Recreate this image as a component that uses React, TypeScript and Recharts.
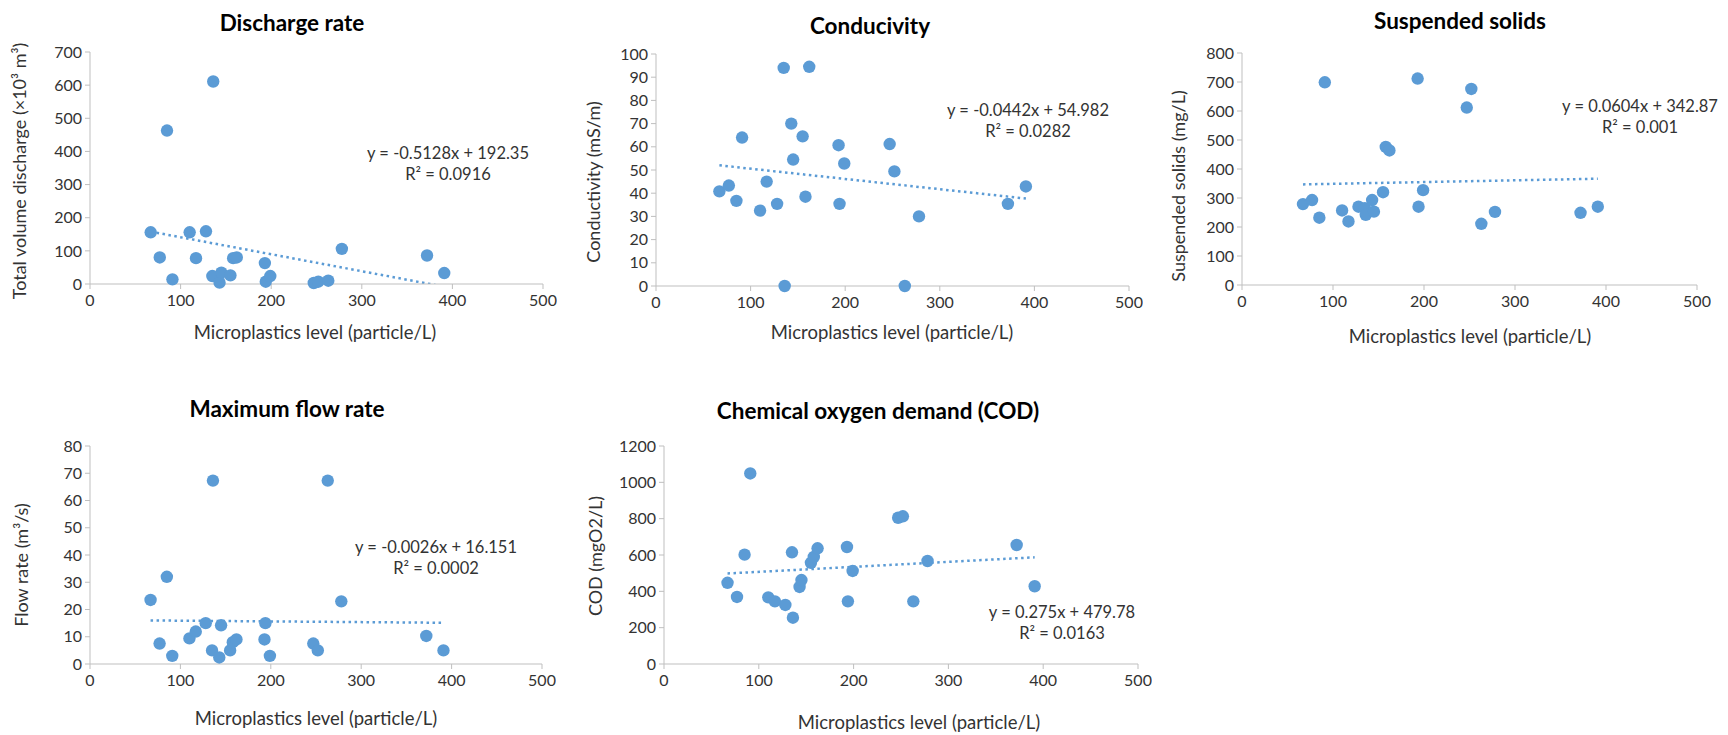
import { ScatterChart, Scatter, XAxis, YAxis, ReferenceLine } from 'recharts';

// Microplastics level (particle/L) for each site, shared by all panels
const microplastics = [67, 77, 85, 91, 110, 117, 128, 135, 136, 143, 145, 155, 158, 162, 193, 194, 199, 247, 252, 263, 278, 372, 391];

const discharge = [156, 80, 463, 14, 156, 78, 159, 24, 611, 4, 34, 26, 78, 80, 63, 7, 24, 3, 7, 10, 106, 86, 33];
const conductivity = [40.8, 43.3, 36.7, 64, 32.5, 45, 35.4, 94, 0, 70, 54.5, 64.5, 38.5, 94.5, 60.7, 35.4, 52.8, 61.2, 49.4, 0, 30, 35.4, 42.9];
const suspendedSolids = [279, 293, 232, 699, 257, 219, 270, 265, 242, 293, 253, 320, 476, 464, 712, 270, 327, 612, 676, 211, 252, 249, 270];
const maxFlow = [23.5, 7.5, 32, 3, 9.4, 11.9, 15, 5, 67.3, 2.4, 14.2, 5, 8, 9, 9, 15, 3, 7.5, 5, 67.3, 23, 10.3, 5];
const cod = [447, 369, 602, 1049, 367, 345, 325, 615, 255, 424, 462, 557, 589, 637, 644, 345, 512, 805, 813, 345, 567, 655, 428];

const xTicks = [0, 100, 200, 300, 400, 500];
const dischargeTicks = [0, 100, 200, 300, 400, 500, 600, 700];
const conductivityTicks = [0, 10, 20, 30, 40, 50, 60, 70, 80, 90, 100];
const solidsTicks = [0, 100, 200, 300, 400, 500, 600, 700, 800];
const flowTicks = [0, 10, 20, 30, 40, 50, 60, 70, 80];
const codTicks = [0, 200, 400, 600, 800, 1000, 1200];

const BLUE = '#5B9BD5';
const AXIS = '#BFBFBF';
const TEXT = '#333333';
const FONT = 'Lato, "Open Sans", sans-serif';

type Pt = [number, number];

interface PanelProps {
  title: string;
  yLabel: string;
  values: number[];
  yTicks: number[];
  slope: number;
  intercept: number;
  eq: string;
  r2: string;
  box: { x0: number; x1: number; yT: number; yB: number };
  titleAt: Pt;
  yLabelAt: Pt;
  xLabelAt: Pt;
  eqAt: Pt;
}

const centered = (at: Pt, extra: React.CSSProperties = {}): React.CSSProperties => ({
  position: 'absolute',
  left: at[0],
  top: at[1],
  transform: 'translate(-50%, -50%)',
  whiteSpace: 'nowrap',
  fontFamily: FONT,
  color: TEXT,
  ...extra,
});

function Panel(p: PanelProps) {
  const data = microplastics.map((x, i) => ({ x, y: p.values[i] }));
  const minX = Math.min(...microplastics);
  const maxX = Math.max(...microplastics);
  const padL = 70;
  const padR = 14;
  const padT = 14;
  const padB = 40;
  const w = p.box.x1 - p.box.x0 + padL + padR;
  const h = p.box.yB - p.box.yT + padT + padB;
  const yMax = p.yTicks[p.yTicks.length - 1];

  return (
    <>
      <div style={{ position: 'absolute', left: p.box.x0 - padL, top: p.box.yT - padT }}>
        <ScatterChart width={w} height={h} margin={{ top: padT, right: padR, bottom: 0, left: 0 }}>
          <XAxis
            type="number"
            dataKey="x"
            domain={[0, 500]}
            ticks={xTicks}
            stroke={AXIS}
            tickSize={5}
            tickMargin={6}
            height={padB}
            tick={{ fill: TEXT, fontSize: 16, fontFamily: FONT }}
          />
          <YAxis
            type="number"
            dataKey="y"
            domain={[0, yMax]}
            ticks={p.yTicks}
            stroke={AXIS}
            tickSize={5}
            tickMargin={3}
            width={padL}
            tick={{ fill: TEXT, fontSize: 16, fontFamily: FONT }}
          />
          <ReferenceLine
            segment={[
              { x: minX, y: p.slope * minX + p.intercept },
              { x: maxX, y: p.slope * maxX + p.intercept },
            ]}
            ifOverflow="hidden"
            stroke={BLUE}
            strokeWidth={2.5}
            strokeDasharray="2.5 3.5"
          />
          <Scatter data={data} fill={BLUE} isAnimationActive={false} shape={(s: any) => <circle cx={s.cx} cy={s.cy} r={6.2} fill={BLUE} />} />
        </ScatterChart>
      </div>
      <div style={centered(p.titleAt, { fontSize: 22.5, fontWeight: 700, color: '#000' })}>{p.title}</div>
      <div style={centered(p.yLabelAt, { fontSize: 18, transform: 'translate(-50%, -50%) rotate(-90deg)' })}>{p.yLabel}</div>
      <div style={centered(p.xLabelAt, { fontSize: 18.5 })}>Microplastics level (particle/L)</div>
      <div style={centered(p.eqAt, { fontSize: 16.5, textAlign: 'center', lineHeight: '21px' })}>
        {p.eq}
        <br />
        {p.r2}
      </div>
    </>
  );
}

export default function App() {
  return (
    <div style={{ position: 'absolute', left: 0, top: 0, width: 1728, height: 735, background: '#fff', overflow: 'hidden' }}>
      <Panel
        title="Discharge rate"
        yLabel="Total volume discharge (×10³ m³)"
        values={discharge}
        yTicks={dischargeTicks}
        slope={-0.5128}
        intercept={192.35}
        eq="y = -0.5128x + 192.35"
        r2="R² = 0.0916"
        box={{ x0: 90, x1: 543, yT: 52, yB: 284 }}
        titleAt={[292, 22]}
        yLabelAt={[19, 171]}
        xLabelAt={[315, 332]}
        eqAt={[448, 164]}
      />
      <Panel
        title="Conducivity"
        yLabel="Conductivity (mS/m)"
        values={conductivity}
        yTicks={conductivityTicks}
        slope={-0.0442}
        intercept={54.982}
        eq="y = -0.0442x + 54.982"
        r2="R² = 0.0282"
        box={{ x0: 656, x1: 1129, yT: 54, yB: 286 }}
        titleAt={[870, 25]}
        yLabelAt={[593, 182]}
        xLabelAt={[892, 332]}
        eqAt={[1028, 121]}
      />
      <Panel
        title="Suspended solids"
        yLabel="Suspended solids (mg/L)"
        values={suspendedSolids}
        yTicks={solidsTicks}
        slope={0.0604}
        intercept={342.87}
        eq="y = 0.0604x + 342.87"
        r2="R² = 0.001"
        box={{ x0: 1242, x1: 1697, yT: 53, yB: 285 }}
        titleAt={[1460, 20]}
        yLabelAt={[1178, 186]}
        xLabelAt={[1470, 336]}
        eqAt={[1640, 117]}
      />
      <Panel
        title="Maximum flow rate"
        yLabel="Flow rate (m³/s)"
        values={maxFlow}
        yTicks={flowTicks}
        slope={-0.0026}
        intercept={16.151}
        eq="y = -0.0026x + 16.151"
        r2="R² = 0.0002"
        box={{ x0: 90, x1: 542, yT: 446, yB: 664 }}
        titleAt={[287, 408]}
        yLabelAt={[21, 565]}
        xLabelAt={[316, 718]}
        eqAt={[436, 558]}
      />
      <Panel
        title="Chemical oxygen demand (COD)"
        yLabel="COD (mgO2/L)"
        values={cod}
        yTicks={codTicks}
        slope={0.275}
        intercept={479.78}
        eq="y = 0.275x + 479.78"
        r2="R² = 0.0163"
        box={{ x0: 664, x1: 1138, yT: 446, yB: 664 }}
        titleAt={[878, 410]}
        yLabelAt={[595, 556]}
        xLabelAt={[919, 722]}
        eqAt={[1062, 623]}
      />
    </div>
  );
}
